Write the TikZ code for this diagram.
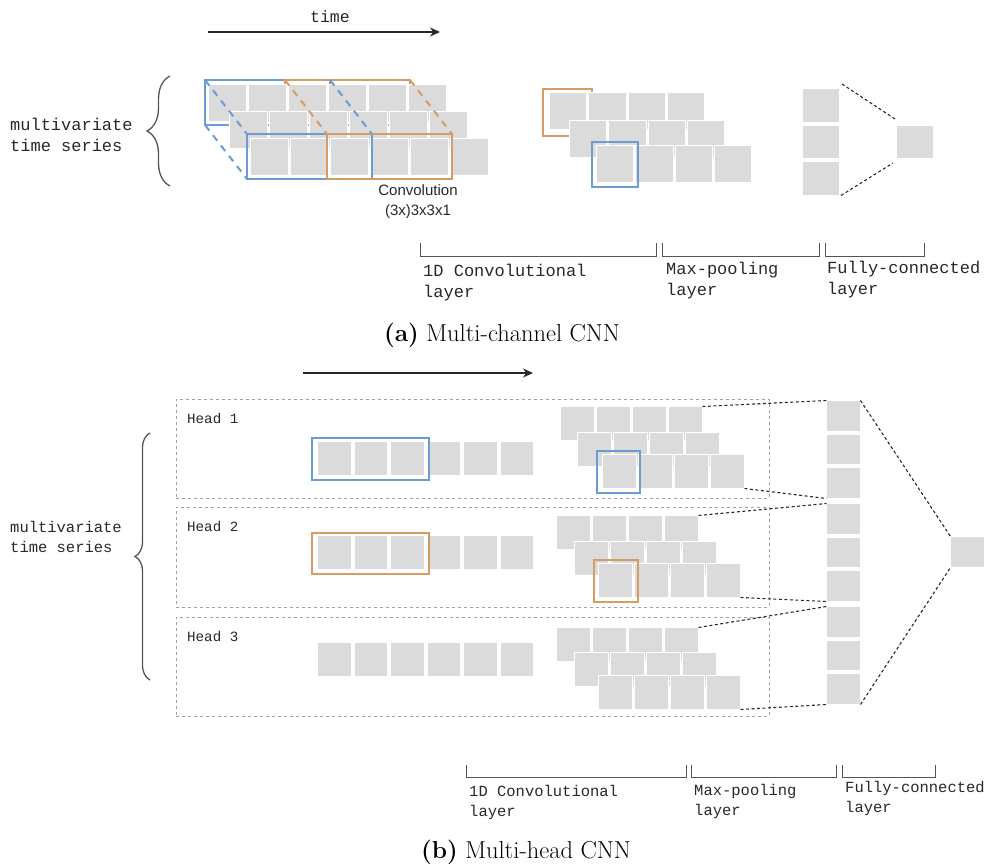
\documentclass[tikz,border=0pt]{standalone}
\usepackage{fontspec}
\newfontfamily\labelmono{Liberation Mono}
\newfontfamily\labelsans{Liberation Sans}
\usetikzlibrary{positioning,arrows.meta,decorations.pathreplacing}
\definecolor{cellgray}{RGB}{219,219,219}
\definecolor{kblue}{RGB}{108,156,212}
\definecolor{korange}{RGB}{214,156,100}
\definecolor{inkdark}{RGB}{40,40,40}
\definecolor{guide}{RGB}{85,85,85}
\definecolor{headline}{RGB}{160,160,160}

\begin{document}
\begin{tikzpicture}[x=1pt,y=-1pt,
  >={Stealth[length=10pt,width=9pt]},
  cell/.style={fill=cellgray,draw=white,line width=1.2pt,inner sep=0pt,outer sep=0pt,
               anchor=north west,minimum width=38pt,minimum height=37pt},
  scell/.style={cell,minimum width=34pt,minimum height=34pt},
  fcell/.style={cell,minimum width=34pt,minimum height=31pt},
  kbox/.style={draw=#1,line width=2.2pt,inner sep=0pt,outer sep=0pt,anchor=north west},
  kdash/.style={draw=#1,line width=2pt,dash pattern=on 7pt off 6pt},
  headbox/.style={draw=headline,line width=0.9pt,dash pattern=on 3pt off 3pt,
                  inner sep=0pt,outer sep=0pt,anchor=north west,minimum width=593pt},
  headlbl/.style={font=\labelmono\fontsize{14.2}{17}\selectfont,text=inkdark,inner sep=0pt,anchor=west},
  fcdash/.style={draw=inkdark,line width=1.1pt,dash pattern=on 3pt off 2.5pt},
  sbrace/.style={draw=guide,line width=1.3pt,decorate,decoration={brace,amplitude=#1}},
  bracket/.style={draw=guide,line width=1pt},
  timeline/.style={->,draw=inkdark,line width=1.2pt},
  monoA/.style={font=\labelmono\fontsize{17}{21}\selectfont,text=inkdark,inner sep=0pt,align=left,anchor=west},
  monoB/.style={font=\labelmono\fontsize{15.5}{20}\selectfont,text=inkdark,inner sep=0pt,align=left,anchor=west},
  caption/.style={font=\fontsize{24.5}{29}\selectfont,inner sep=0pt},
]
\useasboundingbox (0,0) rectangle (986,864);

% =================== (a) multi-channel CNN ===================
\node[monoA,anchor=center,font=\labelmono\fontsize{16.5}{20}\selectfont] (timeA) at (330,17) {time};
\coordinate (tA0) at (208,32);
\coordinate (tA1) at (440,32);
\draw[timeline] (tA0) -- (tA1);
\coordinate (brA0) at (170,186);
\coordinate (brA1) at (170,76);
\draw[sbrace=23pt] (brA0) -- (brA1);
\node[monoA] (mtsA) at (10,135) {multivariate\\time series};

% kernels, back face (behind the channels)
\node[kbox=kblue,minimum width=125pt,minimum height=45pt] (kbB) at (205,80) {};
\node[kbox=korange,minimum width=125pt,minimum height=45pt] (koB) at (285,80) {};
% input channels
\foreach \row in {1,2,3}{
  \foreach \col in {1,...,6}{
    \node[cell] (ca-\row-\col) at ({208.5+21*(\row-1)+40*(\col-1)},{84.5+27*(\row-1)}) {};
  }
}
% kernels, front face
\node[kbox=kblue,minimum width=125pt,minimum height=45pt] (kbF) at (247,134) {};
\node[kbox=korange,minimum width=125pt,minimum height=45pt] (koF) at (327,134) {};
\draw[kdash=kblue] (kbB.north west) -- (kbF.north west);
\draw[kdash=kblue] (kbB.north east) -- (kbF.north east);
\draw[kdash=kblue] (kbB.south west) -- (kbF.south west);
\draw[kdash=korange] (koB.north west) -- (koF.north west);
\draw[kdash=korange] (koB.north east) -- (koF.north east);
\node[font=\labelsans\fontsize{15}{20}\selectfont,text=inkdark,align=center,inner sep=0pt]
  (convlbl) at (418,202) {Convolution\\(3x)3x3x1};

% max-pooling maps
\node[kbox=korange,minimum width=49pt,minimum height=47pt] (poB) at (543,89) {};
\foreach \row/\x/\y in {1/549.5/92.5,2/569.5/120.5,3/596.5/145.5}{
  \foreach \col in {1,...,4}{
    \node[cell,minimum width=37.5pt,minimum height=37.5pt] (pa-\row-\col) at ({\x+39.3*(\col-1)},\y) {};
  }
}
\node[kbox=kblue,minimum width=46pt,minimum height=45pt] (pbF) at (592,142) {};

% fully-connected
\foreach \i in {1,2,3}{
  \node[cell,minimum width=37pt,minimum height=34pt] (fa-\i) at (802.5,{88.5+36.5*(\i-1)}) {};
}
\node[cell,minimum width=37pt,minimum height=33.5pt] (foA) at (896.5,125.5) {};
\draw[fcdash] ([xshift=2.5pt,yshift=4.5pt]fa-1.north east) -- ([yshift=5.5pt]foA.north west);
\draw[fcdash] ([xshift=1.5pt]fa-3.south east) -- ([xshift=-3.5pt,yshift=-4pt]foA.south west);

% layer brackets
\draw[bracket] (420,243) |- (656,256) -- (656,243);
\draw[bracket] (662,243) |- (819,256) -- (819,243);
\draw[bracket] (825,243) |- (924,256) -- (924,243);
\node[monoA] (convA) at (423,283) {1D Convolutional\\layer};
\node[monoA] (poolA) at (666,281) {Max-pooling\\layer};
\node[monoA] (fcA) at (827,280) {Fully-connected\\layer};
\node[caption] (capA) at (502,335) {\textbf{(a)} Multi-channel CNN};

% =================== (b) multi-head CNN ===================
\coordinate (tB0) at (303,373);
\coordinate (tB1) at (533,373);
\draw[timeline] (tB0) -- (tB1);
\coordinate (brB0) at (150,680);
\coordinate (brB1) at (150,433);
\draw[sbrace=15pt] (brB0) -- (brB1);
\node[monoB] (mtsB) at (10,537) {multivariate\\time series};

% heads
\foreach \hd/\y/\hh in {1/399/99,2/507/100,3/617/99}{
  \node[headbox,minimum height=\hh pt] (hb-\hd) at (176,\y) {};
  \node[headlbl] (hl-\hd) at ([xshift=11pt,yshift=-19pt]hb-\hd.north west) {Head \hd};
}
% input series per head
\foreach \hd/\y in {1/441.5,2/535.5,3/642.5}{
  \foreach \col in {1,...,6}{
    \node[scell] (ib-\hd-\col) at ({317.5+36.5*(\col-1)},\y) {};
  }
}
\node[kbox=kblue,minimum width=117pt,minimum height=42pt] (kbH) at (312,438) {};
\node[kbox=korange,minimum width=117pt,minimum height=41pt] (koH) at (312,533) {};

% max-pooling maps per head
\foreach \hd/\row/\x/\y in {1/1/560.5/406.5,1/2/577.5/432.5,1/3/602.5/454.5,
                            2/1/556.5/515.5,2/2/574.5/541.5,2/3/598.5/563.5,
                            3/1/556.5/627.5,3/2/574.5/652.5,3/3/598.5/675.5}{
  \foreach \col in {1,...,4}{
    \node[scell] (pb-\hd-\row-\col) at ({\x+36*(\col-1)},\y) {};
  }
}
\node[kbox=kblue,minimum width=43pt,minimum height=42pt] (pbH) at (597,451) {};
\node[kbox=korange,minimum width=44pt,minimum height=42pt] (poH) at (594,560) {};

% concatenated fully-connected
\foreach \i/\y in {1/400.5,2/434,3/467.5,4/503.5,5/537,6/570.5,7/606.5,8/640,9/673.5}{
  \node[fcell] (fb-\i) at (826.5,\y) {};
}
\node[fcell] (foB) at (950.5,536.5) {};
\foreach \hd/\top/\bot in {1/1/3,2/4/6,3/7/9}{
  \draw[fcdash] (pb-\hd-1-4.north east) -- (fb-\top.north west);
  \draw[fcdash] (pb-\hd-3-4.south east) -- (fb-\bot.south west);
}
\draw[fcdash] (fb-1.north east) -- (foB.north west);
\draw[fcdash] (fb-9.south east) -- (foB.south west);

% layer brackets
\draw[bracket] (466,765) |- (686,777) -- (686,765);
\draw[bracket] (691,765) |- (836,777) -- (836,765);
\draw[bracket] (842,765) |- (935,777) -- (935,765);
\node[monoB] (convB) at (469,802) {1D Convolutional\\layer};
\node[monoB] (poolB) at (694,801) {Max-pooling\\layer};
\node[monoB] (fcB) at (845,798) {Fully-connected\\layer};
\node[caption] (capB) at (526,852) {\textbf{(b)} Multi-head CNN};
\end{tikzpicture}
\end{document}
